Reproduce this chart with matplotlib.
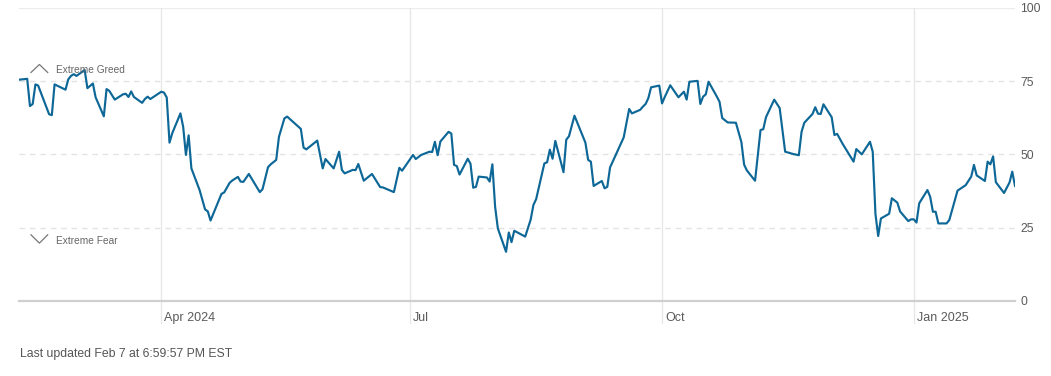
import matplotlib
matplotlib.use("Agg")
import matplotlib.pyplot as plt
import matplotlib.transforms as mtransforms
from matplotlib.lines import Line2D
import pandas as pd

# ---------------- data ----------------
dates = [
    "2024-02-09", "2024-02-12", "2024-02-13", "2024-02-14", "2024-02-15", "2024-02-16",
    "2024-02-20", "2024-02-21", "2024-02-22", "2024-02-26", "2024-02-27", "2024-02-28",
    "2024-02-29", "2024-03-01", "2024-03-04", "2024-03-05", "2024-03-07", "2024-03-08",
    "2024-03-11", "2024-03-12", "2024-03-13", "2024-03-15", "2024-03-18", "2024-03-19",
    "2024-03-20", "2024-03-21", "2024-03-22", "2024-03-25", "2024-03-26", "2024-03-27",
    "2024-03-28", "2024-04-01", "2024-04-02", "2024-04-03", "2024-04-04", "2024-04-05",
    "2024-04-08", "2024-04-09", "2024-04-10", "2024-04-11", "2024-04-12", "2024-04-15",
    "2024-04-17", "2024-04-18", "2024-04-19", "2024-04-23", "2024-04-24", "2024-04-26",
    "2024-04-27", "2024-04-29", "2024-04-30", "2024-05-01", "2024-05-03", "2024-05-07",
    "2024-05-08", "2024-05-10", "2024-05-11", "2024-05-13", "2024-05-14", "2024-05-16",
    "2024-05-17", "2024-05-22", "2024-05-23", "2024-05-24", "2024-05-28", "2024-05-30",
    "2024-05-31", "2024-06-03", "2024-06-05", "2024-06-06", "2024-06-07", "2024-06-10",
    "2024-06-11", "2024-06-12", "2024-06-14", "2024-06-17", "2024-06-20", "2024-06-21",
    "2024-06-25", "2024-06-27", "2024-06-28", "2024-07-02", "2024-07-03", "2024-07-05",
    "2024-07-08", "2024-07-09", "2024-07-10", "2024-07-11", "2024-07-12", "2024-07-15",
    "2024-07-16", "2024-07-17", "2024-07-18", "2024-07-19", "2024-07-22", "2024-07-23",
    "2024-07-24", "2024-07-25", "2024-07-26", "2024-07-29", "2024-07-30", "2024-07-31",
    "2024-08-01", "2024-08-02", "2024-08-05", "2024-08-06", "2024-08-07", "2024-08-08",
    "2024-08-12", "2024-08-14", "2024-08-15", "2024-08-16", "2024-08-19", "2024-08-20",
    "2024-08-21", "2024-08-22", "2024-08-23", "2024-08-26", "2024-08-27", "2024-08-28",
    "2024-08-30", "2024-09-03", "2024-09-04", "2024-09-05", "2024-09-06", "2024-09-09",
    "2024-09-10", "2024-09-11", "2024-09-12", "2024-09-17", "2024-09-19", "2024-09-20",
    "2024-09-23", "2024-09-24", "2024-09-25", "2024-09-26", "2024-09-27", "2024-09-30",
    "2024-10-01", "2024-10-02", "2024-10-04", "2024-10-07", "2024-10-09", "2024-10-10",
    "2024-10-11", "2024-10-14", "2024-10-15", "2024-10-16", "2024-10-17", "2024-10-18",
    "2024-10-21", "2024-10-22", "2024-10-23", "2024-10-25", "2024-10-28", "2024-10-30",
    "2024-10-31", "2024-11-01", "2024-11-04", "2024-11-06", "2024-11-07", "2024-11-08",
    "2024-11-11", "2024-11-13", "2024-11-15", "2024-11-18", "2024-11-20", "2024-11-21",
    "2024-11-22", "2024-11-25", "2024-11-26", "2024-11-27", "2024-11-28", "2024-11-29",
    "2024-12-02", "2024-12-03", "2024-12-04", "2024-12-06", "2024-12-10", "2024-12-11",
    "2024-12-13", "2024-12-16", "2024-12-17", "2024-12-18", "2024-12-19", "2024-12-20",
    "2024-12-23", "2024-12-24", "2024-12-26", "2024-12-27", "2024-12-30", "2024-12-31",
    "2025-01-01", "2025-01-02", "2025-01-03", "2025-01-06", "2025-01-07", "2025-01-08",
    "2025-01-09", "2025-01-10", "2025-01-13", "2025-01-14", "2025-01-17", "2025-01-20",
    "2025-01-22", "2025-01-23", "2025-01-24", "2025-01-27", "2025-01-28", "2025-01-29",
    "2025-01-30", "2025-01-31", "2025-02-03", "2025-02-05", "2025-02-06", "2025-02-07",
]
values = [
    75.5, 75.8, 66.5, 67.2, 73.9, 73.5,
    63.7, 63.4, 73.9, 72.1, 75.6, 76.8,
    77.4, 76.8, 78.8, 72.6, 74.2, 69.5,
    63.0, 72.3, 71.7, 68.7, 70.5, 70.7,
    69.6, 71.5, 69.6, 67.6, 68.9, 69.7,
    68.9, 71.4, 71.1, 69.4, 54.0, 57.2,
    64.0, 59.4, 49.8, 56.5, 45.2, 37.8,
    31.2, 30.5, 27.4, 36.5, 37.0, 40.3,
    41.1, 42.3, 40.7, 40.6, 43.3, 37.1,
    38.1, 45.6, 46.6, 48.1, 56.0, 62.3,
    62.9, 58.7, 52.3, 51.7, 54.7, 45.2,
    48.4, 45.2, 50.9, 44.7, 43.5, 44.7,
    44.6, 46.7, 41.0, 43.3, 38.8, 38.7,
    37.1, 45.4, 44.4, 49.8, 48.4, 49.8,
    50.9, 50.8, 54.3, 49.7, 54.4, 57.7,
    57.1, 46.4, 46.0, 43.1, 48.5, 46.8,
    38.6, 38.9, 42.4, 42.1, 40.7, 46.6,
    32.1, 24.7, 16.7, 23.3, 20.0, 23.9,
    21.9, 27.7, 32.7, 34.7, 46.9, 47.3,
    51.6, 48.5, 54.6, 43.9, 55.0, 56.2,
    63.2, 54.0, 48.1, 47.5, 39.2, 40.9,
    38.4, 38.9, 45.5, 55.8, 65.5, 64.0,
    65.2, 66.3, 67.2, 69.2, 72.9, 73.5,
    67.4, 69.6, 73.6, 69.5, 71.4, 68.7,
    74.8, 75.1, 67.2, 69.7, 70.5, 74.8,
    69.8, 68.0, 62.4, 60.9, 60.8, 54.2,
    46.5, 44.5, 41.0, 58.3, 58.6, 62.7,
    68.7, 65.8, 50.9, 50.1, 49.7, 57.7,
    60.8, 63.8, 66.1, 63.9, 63.8, 67.1,
    62.7, 56.6, 57.0, 53.6, 47.5, 51.8,
    50.0, 54.3, 50.9, 29.6, 22.1, 28.1,
    29.7, 35.0, 33.5, 30.5, 27.2, 27.8,
    27.8, 26.7, 33.3, 37.8, 35.5, 30.4,
    30.4, 26.4, 26.4, 27.6, 37.6, 39.5,
    42.4, 46.4, 42.8, 40.9, 47.5, 46.6,
    49.3, 40.5, 36.8, 40.4, 44.1, 39.2,
]
tick_dates = ["2024-04-01", "2024-07-01", "2024-10-01", "2025-01-01"]
tick_labels = ["Apr 2024", "Jul", "Oct", "Jan 2025"]
y_ticks = [0, 25, 50, 75, 100]
zone_labels = ["Extreme Greed", "Extreme Fear"]
zone_levels = [75, 25]
footer_text = "Last updated Feb 7 at 6:59:57 PM EST"

# ---------------- figure ----------------
W, H = 1051, 376
plt.rcParams["font.family"] = ["Liberation Sans", "DejaVu Sans"]
fig = plt.figure(figsize=(W / 100, H / 100), dpi=100)
fig.patch.set_facecolor("white")

left_px, right_px, top_px, bot_px = 19, 1015, 8, 300.7
ax = fig.add_axes([left_px / W, 1 - bot_px / H, (right_px - left_px) / W, (bot_px - top_px) / H])
ax.set_facecolor("white")

x = pd.to_datetime(dates)
ax.set_xlim(x[0], x[-1])
ax.set_ylim(0, 100)

for s in ax.spines.values():
    s.set_visible(False)

# horizontal guides
for lvl in [25, 50, 75]:
    ax.axhline(lvl, color="#e3e3e3", lw=1.0, ls=(0, (4, 3.5)), zorder=1)
ax.axhline(100, color="#ececec", lw=0.9, zorder=1)

# vertical month guides (extend below axis next to labels)
for d in pd.to_datetime(tick_dates):
    ax.axvline(d, ymin=-0.077, ymax=1, color="#e6e6e6", lw=0.9, zorder=1, clip_on=False)

ax.axhline(0, color="#cfcfcf", lw=1.6, zorder=2, clip_on=False)

# series
ax.plot(x, values, color="#0d6797", lw=1.55, zorder=3, solid_joinstyle="round")

# x ticks
ax.set_xticks(pd.to_datetime(tick_dates))
ax.set_xticklabels(tick_labels)
ax.tick_params(axis="x", length=0, pad=8.2, labelsize=9, labelcolor="#5a5a5a")
offset = mtransforms.ScaledTranslation(3 / 100, 0, fig.dpi_scale_trans)
for lbl in ax.get_xticklabels():
    lbl.set_horizontalalignment("left")
    lbl.set_transform(lbl.get_transform() + offset)

# y ticks on the right
ax.yaxis.tick_right()
ax.set_yticks(y_ticks)
ax.set_yticklabels([str(v) for v in y_ticks])
ax.tick_params(axis="y", length=0, pad=4, labelsize=8.7, labelcolor="#5a5a5a")

# zone labels with chevrons
bt = ax.get_yaxis_transform()  # x: axes fraction, y: data
span = right_px - left_px
tx = (55.7 - left_px) / span
cx0, cx1, cxm = (31 - left_px) / span, (47.7 - left_px) / span, (39.4 - left_px) / span
ppu = (bot_px - top_px) / 100.0  # pixels per data unit
# Extreme Greed (above 75)
gy = zone_levels[0] + (81 - 69.7) / ppu
ax.text(tx, gy, zone_labels[0], transform=bt, fontsize=7.3, color="#666666",
        va="center", ha="left")
ax.add_line(Line2D([cx0, cxm, cx1],
                   [zone_levels[0] + (81 - 72.3) / ppu, zone_levels[0] + (81 - 64.3) / ppu,
                    zone_levels[0] + (81 - 72.3) / ppu],
                   transform=bt, color="#777777", lw=0.9, clip_on=False))
# Extreme Fear (below 25)
fy = zone_levels[1] - (240.7 - 227.7) / ppu
ax.text(tx, fy, zone_labels[1], transform=bt, fontsize=7.3, color="#666666",
        va="center", ha="left")
ax.add_line(Line2D([cx0, cxm, cx1],
                   [zone_levels[1] - (235 - 227.7) / ppu, zone_levels[1] - (243.3 - 227.7) / ppu,
                    zone_levels[1] - (235 - 227.7) / ppu],
                   transform=bt, color="#777777", lw=0.9, clip_on=False))

# footer
fig.text(20 / W, 1 - 354 / H, footer_text, fontsize=8.8, color="#555555",
         va="center", ha="left")

fig.savefig("out.png", dpi=100, facecolor="white")
